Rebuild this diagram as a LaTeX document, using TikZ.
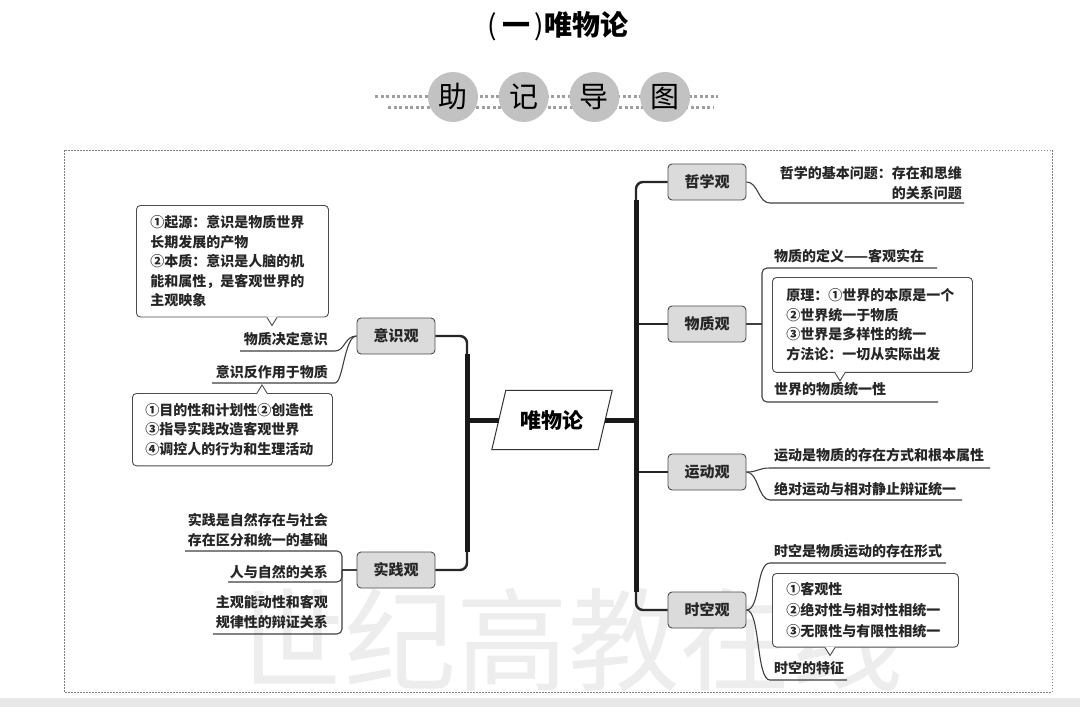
\documentclass[tikz,border=0pt]{standalone}
\usepackage{fontspec}
\setmainfont{Noto Sans CJK SC}
\usetikzlibrary{calc}
\newcommand\lfont{\fontsize{14}{19.5}\selectfont\bfseries}
\tikzstyle{topic}=[draw=black!70,fill=black!14,rounded corners=4pt,line width=.9pt,minimum width=78pt,minimum height=36pt,inner sep=0pt,text=black!85,font=\fontsize{15}{18}\selectfont\bfseries]
\tikzstyle{hub}=[minimum width=106pt,minimum height=59pt,inner sep=0pt,font=\fontsize{21}{24}\selectfont\bfseries]
\tikzstyle{hubline}=[draw=black!80,fill=white,line width=1pt]
\tikzstyle{lf}=[inner sep=0pt,text=black!85,font=\lfont]
\tikzstyle{cb}=[draw=black!70,fill=white,line width=.9pt,rounded corners=4pt,anchor=north west,align=left,inner xsep=14pt,inner ysep=10pt,text=black!85,font=\lfont]
\tikzstyle{cl}=[draw=black!70,line width=.9pt]
\tikzstyle{ul}=[line width=1.1pt,black!75]
\tikzstyle{br}=[line width=2.4pt,black!85,rounded corners=7pt]
\tikzstyle{tk}=[line width=5pt,black!90]
\tikzstyle{dl}=[line width=3pt,black!38,dash pattern=on 3pt off 2.5pt]
\tikzstyle{dot}=[circle,fill=black!24,minimum size=50pt,inner sep=0pt,font=\fontsize{29}{30}\selectfont]
\newcommand\notch[3]{%
  \fill[white] ($(#1)+({#2-5},{0-(#3)})$) -- ($(#1)+(#2,{8*(#3)})$) -- ($(#1)+({#2+5},{0-(#3)})$) -- cycle;
  \draw[cl] ($(#1)+({#2-5},0)$) -- ($(#1)+(#2,{8*(#3)})$) -- ($(#1)+({#2+5},0)$);}
\begin{document}
\begin{tikzpicture}[x=1pt,y=-1pt]
\useasboundingbox (0,0) rectangle (1080,707);
\fill[white] (0,0) rectangle (1080,707);
\fill[black!9] (0,698) rectangle (1080,707);
\node[text=black!7,font=\fontsize{112}{112}\selectfont] (wm) at (568,640) {世纪高教在线};
\draw[black!50,line width=.8pt,dash pattern=on 1.5pt off 1.5pt] (64,150) rectangle (1052,692);

\node[font=\fontsize{28}{30}\selectfont\bfseries] (ttl) at (558,26) {{\mdseries(}\,一\,{\mdseries)}唯物论};
\draw[dl] (375,96) -- (718,96);
\draw[dl] (388,107) -- (714,107);
\foreach \w [count=\i] in {助,记,导,图}
  \node[dot] (d\i) at ({453+70.7*(\i-1)},97) {\w};

\node[hub] (wwl) at (552,420) {};
\filldraw[hubline] ($(wwl.north west)+(7,0)$) -- ($(wwl.north east)+(7,0)$)
  -- ($(wwl.south east)+(-7,0)$) -- ($(wwl.south west)+(-7,0)$) -- cycle;
\node[hub] at (wwl) {唯物论};
\coordinate (jl) at (467,420);
\coordinate (jr) at (636,420);

\node[topic] (ysg) at (396,336) {意识观};
\node[topic] (sjg) at (396,570) {实践观};
\node[topic] (zxg) at (707,182) {哲学观};
\node[topic] (wzg) at (707,324) {物质观};
\node[topic] (ydg) at (707,472) {运动观};
\node[topic] (skg) at (707,610) {时空观};

\draw[br] (ysg.east) -| (jl) |- (sjg.east);
\draw[br] (zxg.west) -| (jr) |- (skg.west);
\draw[br] (jr |- wzg.west) -- (wzg.west);
\draw[br] (jr |- ydg.west) -- (ydg.west);
\draw[tk] (jl |- ysg.south) -- (jl |- sjg.north);
\draw[tk] (jr |- zxg.south) -- (jr |- skg.north);
\draw[tk] (wwl.west) -- (jl);
\draw[tk] (wwl.east) -- (jr);

\node[lf,anchor=east,align=right] (zx1) at (962,183) {哲学的基本问题：存在和思维\\的关系问题};
\coordinate (zxu) at (770,203);
\draw[ul] (zxg.east) .. controls +(12,0) and +(-12,0) .. (zxu) -- ++(194,0);

\node[lf,anchor=west] (wz1) at (774,256) {物质的定义——客观实在};
\node[cb,text width=172pt,inner ysep=11.5pt] (wzc) at (772,277) {原理：①世界的本原是一个\\②世界统一于物质\\③世界是多样性的统一\\方法论：一切从实际出发};
\notch{wzc.south west}{68}{1}
\node[lf,anchor=west] (wz2) at (774,389) {世界的物质统一性};
\coordinate (wzb) at (762,324);
\draw[ul] (wzg.east) -- (wzb);
\draw[ul,rounded corners=5pt] (937,268) -- (762,268) -- (762,402) -- (938,402);

\node[lf,anchor=west] (yd1) at (774,455) {运动是物质的存在方式和根本属性};
\node[lf,anchor=west] (yd2) at (774,489) {绝对运动与相对静止辩证统一};
\coordinate (ydu1) at (770,468);
\coordinate (ydu2) at (770,500);
\draw[ul] (ydg.east) .. controls +(12,0) and +(-12,0) .. (ydu1) -- ++(220,0);
\draw[ul] (ydg.east) .. controls +(12,0) and +(-12,0) .. (ydu2) -- ++(192,0);

\node[lf,anchor=west] (sk1) at (774,551) {时空是物质运动的存在形式};
\node[cb,text width=158pt,inner ysep=9pt,font=\fontsize{14}{21}\selectfont\bfseries] (skc) at (772,573) {①客观性\\②绝对性与相对性相统一\\③无限性与有限性相统一};
\notch{skc.south west}{58}{1}
\node[lf,anchor=west] (sk2) at (774,668) {时空的特征};
\coordinate (sku1) at (770,563);
\coordinate (sku2) at (770,680);
\draw[ul] (skg.east) .. controls +(14,0) and +(-14,0) .. (sku1) -- ++(176,0);
\draw[ul] (skg.east) .. controls +(14,0) and +(-14,0) .. (sku2) -- ++(77,0);

\node[cb,text width=164pt] (ysc) at (136,205) {①起源：意识是物质世界\\长期发展的产物\\②本质：意识是人脑的机\\能和属性，是客观世界的\\主观映象};
\notch{ysc.south west}{136}{1}
\node[lf,anchor=east] (ys1) at (328,339) {物质决定意识};
\node[lf,anchor=east] (ys2) at (328,372) {意识反作用于物质};
\coordinate (ysu1) at (335,351);
\coordinate (ysu2) at (335,383);
\draw[ul] (ysg.west) .. controls +(-12,0) and +(10,0) .. (ysu1) -- ++(-95,0);
\draw[ul] (ysg.west) .. controls +(-12,0) and +(8,0) .. (ysu2) -- ++(-123,0);
\node[cb,text width=174pt,inner xsep=13pt] (ysd) at (132,393) {①目的性和计划性②创造性\\③指导实践改造客观世界\\④调控人的行为和生理活动};
\notch{ysd.north west}{130}{-1}

\node[lf,anchor=east,align=right] (sj1) at (328,530) {实践是自然存在与社会\\存在区分和统一的基础};
\node[lf,anchor=east] (sj2) at (328,572) {人与自然的关系};
\node[lf,anchor=east,align=right] (sj3) at (328,612) {主观能动性和客观\\规律性的辩证关系};
\coordinate (sjb) at (342,570);
\draw[ul] (sjg.west) -- (sjb);
\draw[ul,rounded corners=5pt] (185,551) -- (342,551) -- (342,634) -- (213,634);
\draw[ul,rounded corners=5pt] (228,582) -- (342,582) -- (sjb);
\end{tikzpicture}
\end{document}
